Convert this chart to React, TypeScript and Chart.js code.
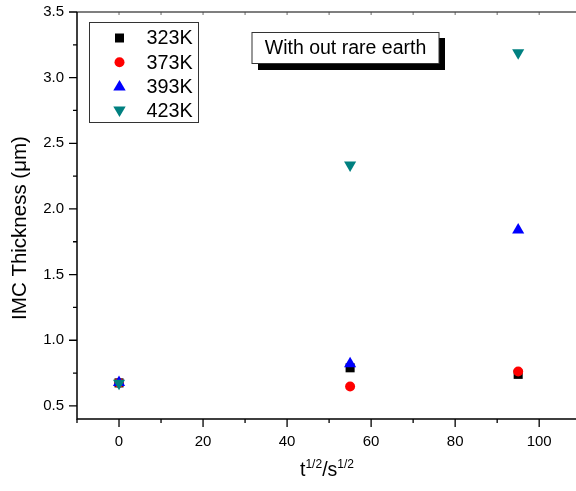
import React, { useEffect, useRef } from "react";
import { Chart, registerables } from "chart.js";

Chart.register(...registerables);

const xValues = [0, 55, 95];
const seriesLabels = ["323K", "373K", "393K", "423K"];
const s323 = [0.675, 0.79, 0.74];
const s373 = [0.675, 0.648, 0.762];
const s393 = [0.678, 0.82, 1.84];
const s423 = [0.672, 2.335, 3.19];
const seriesColors = ["#000000", "#FF0000", "#0000FF", "#008080"];
const xMajorTicks = [0, 20, 40, 60, 80, 100];
const xMinorTicks = [-10, 10, 30, 50, 70, 90, 110];
const yMajorTicks = [0.5, 1.0, 1.5, 2.0, 2.5, 3.0, 3.5];
const yMinorTicks = [0.75, 1.25, 1.75, 2.25, 2.75, 3.25];
const yTitle = "IMC Thickness (\u03bcm)";
const annotationText = "With out rare earth";

const FONT = "'Liberation Sans', Arial, sans-serif";

function drawMarker(ctx: CanvasRenderingContext2D, style: string, x: number, y: number, color: string) {
  ctx.save();
  ctx.fillStyle = color;
  ctx.beginPath();
  if (style === "rect") {
    ctx.rect(x - 4.5, y - 4.5, 9, 9);
  } else if (style === "circle") {
    ctx.arc(x, y, 5, 0, Math.PI * 2);
  } else if (style === "triangle") {
    ctx.moveTo(x, y - 6.5);
    ctx.lineTo(x + 6.2, y + 4);
    ctx.lineTo(x - 6.2, y + 4);
    ctx.closePath();
  } else {
    ctx.moveTo(x, y + 6.5);
    ctx.lineTo(x + 6.2, y - 4);
    ctx.lineTo(x - 6.2, y - 4);
    ctx.closePath();
  }
  ctx.fill();
  ctx.restore();
}

const decorPlugin = {
  id: "decor",
  afterDraw(chart: any) {
    const ctx: CanvasRenderingContext2D = chart.ctx;
    const { left, right, top, bottom } = chart.chartArea;
    const xs = chart.scales.x;
    const ys = chart.scales.y;
    ctx.save();
    ctx.strokeStyle = "#000";
    ctx.lineWidth = 1.5;
    ctx.beginPath();
    ctx.moveTo(left, top);
    ctx.lineTo(left, bottom);
    ctx.lineTo(right, bottom);
    ctx.stroke();
    ctx.lineWidth = 1.2;
    ctx.beginPath();
    ctx.moveTo(left, top);
    ctx.lineTo(right, top);
    ctx.stroke();
    ctx.lineWidth = 1.3;
    ctx.beginPath();
    for (const v of yMajorTicks) {
      const y = ys.getPixelForValue(v);
      ctx.moveTo(left, y);
      ctx.lineTo(left - 8, y);
    }
    for (const v of yMinorTicks) {
      const y = ys.getPixelForValue(v);
      ctx.moveTo(left, y);
      ctx.lineTo(left - 4, y);
    }
    for (const v of xMajorTicks) {
      const x = xs.getPixelForValue(v);
      ctx.moveTo(x, bottom);
      ctx.lineTo(x, bottom + 8);
    }
    for (const v of xMinorTicks) {
      const x = xs.getPixelForValue(v);
      if (x < left - 0.5 || x > right) continue;
      ctx.moveTo(x, bottom);
      ctx.lineTo(x, bottom + 4);
    }
    ctx.stroke();
    ctx.lineWidth = 0.8;
    ctx.strokeStyle = "#444";
    ctx.beginPath();
    for (const v of [...xMajorTicks, ...xMinorTicks]) {
      const x = xs.getPixelForValue(v);
      if (x <= left + 1 || x > right) continue;
      ctx.moveTo(x, top);
      ctx.lineTo(x, top + 3);
    }
    ctx.stroke();

    ctx.fillStyle = "#000";
    ctx.font = `20.5px ${FONT}`;
    ctx.textAlign = "center";
    ctx.textBaseline = "middle";
    ctx.save();
    ctx.translate(20, 228);
    ctx.rotate(-Math.PI / 2);
    ctx.fillText(yTitle, 0, 0);
    ctx.restore();

    const parts: [string, boolean][] = [["t", false], ["1/2", true], ["/s", false], ["1/2", true]];
    let total = 0;
    for (const [t, sup] of parts) {
      ctx.font = sup ? `12px ${FONT}` : `19.5px ${FONT}`;
      total += ctx.measureText(t).width;
    }
    let cx = 327 - total / 2;
    ctx.textAlign = "left";
    ctx.textBaseline = "alphabetic";
    const baseY = 476;
    for (const [t, sup] of parts) {
      ctx.font = sup ? `12px ${FONT}` : `19.5px ${FONT}`;
      ctx.fillText(t, cx, sup ? baseY - 8 : baseY);
      cx += ctx.measureText(t).width;
    }

    ctx.lineWidth = 1;
    ctx.strokeStyle = "#333";
    ctx.fillStyle = "#fff";
    ctx.fillRect(89.5, 22.5, 109, 100);
    ctx.strokeRect(89.5, 22.5, 109, 100);
    const styles = ["rect", "circle", "triangle", "triangleDown"];
    chart.data.datasets.forEach((ds: any, i: number) => {
      const y = 38 + i * 24.2;
      drawMarker(ctx, styles[i], 119.5, y, ds.backgroundColor);
      ctx.fillStyle = "#000";
      ctx.font = `19.8px ${FONT}`;
      ctx.textAlign = "left";
      ctx.textBaseline = "middle";
      ctx.fillText(ds.label, 146.5, y + 1);
    });

    ctx.fillStyle = "#000";
    ctx.fillRect(258, 38, 187, 32);
    ctx.fillStyle = "#fff";
    ctx.fillRect(252, 32.5, 187, 31);
    ctx.strokeStyle = "#333";
    ctx.strokeRect(252, 32.5, 187, 31);
    ctx.fillStyle = "#000";
    ctx.font = `19.5px ${FONT}`;
    ctx.textAlign = "center";
    ctx.textBaseline = "middle";
    ctx.fillText(annotationText, 345.5, 48.5);
    ctx.restore();
  },
};

export default function App() {
  const ref = useRef<HTMLCanvasElement | null>(null);
  useEffect(() => {
    if (!ref.current) return;
    const mk = (vals: number[]) => xValues.map((x, i) => ({ x, y: vals[i] }));
    const allVals = [s323, s373, s393, s423];
    const pointStyles: any[] = ["rect", "circle", "triangle", "triangle"];
    const radii = [6.4, 5, 7, 7];
    const rotations = [0, 0, 0, 180];
    const datasets = allVals.map((vals, i) => ({
      label: seriesLabels[i],
      data: mk(vals),
      backgroundColor: seriesColors[i],
      borderColor: seriesColors[i],
      borderWidth: 0,
      pointStyle: pointStyles[i],
      pointRadius: radii[i],
      pointRotation: rotations[i],
      order: 3 - i,
    }));
    const chart = new Chart(ref.current, {
      type: "scatter",
      data: { datasets },
      options: {
        animation: false,
        responsive: false,
        devicePixelRatio: 1,
        layout: { padding: { left: 0, top: 12, right: 0, bottom: 0 } },
        plugins: { legend: { display: false }, tooltip: { enabled: false } },
        scales: {
          x: {
            type: "linear",
            min: -10,
            max: 109,
            grid: { display: false, drawTicks: false },
            border: { display: false },
            afterFit: (s: any) => {
              s.height = 72;
              s.paddingLeft = 0;
              s.paddingRight = 0;
            },
            afterBuildTicks: (s: any) => {
              s.ticks = xMajorTicks.map((v) => ({ value: v }));
            },
            ticks: {
              color: "#000",
              font: { family: FONT, size: 15 },
              padding: 14,
              maxRotation: 0,
              autoSkip: false,
            },
          },
          y: {
            type: "linear",
            min: 0.4,
            max: 3.5,
            grid: { display: false, drawTicks: false },
            border: { display: false },
            afterFit: (s: any) => {
              s.width = 77;
              s.paddingTop = 0;
              s.paddingBottom = 0;
            },
            afterBuildTicks: (s: any) => {
              s.ticks = yMajorTicks.map((v) => ({ value: v }));
            },
            ticks: {
              color: "#000",
              font: { family: FONT, size: 15 },
              padding: 13,
              autoSkip: false,
              callback: (v: any) => Number(v).toFixed(1),
            },
          },
        },
      },
      plugins: [decorPlugin],
    });
    return () => chart.destroy();
  }, []);
  return (
    <div style={{ position: "fixed", left: 0, top: 0, width: 576, height: 491, background: "#fff", overflow: "hidden" }}>
      <canvas ref={ref} width={584} height={491} style={{ display: "block" }} />
    </div>
  );
}
